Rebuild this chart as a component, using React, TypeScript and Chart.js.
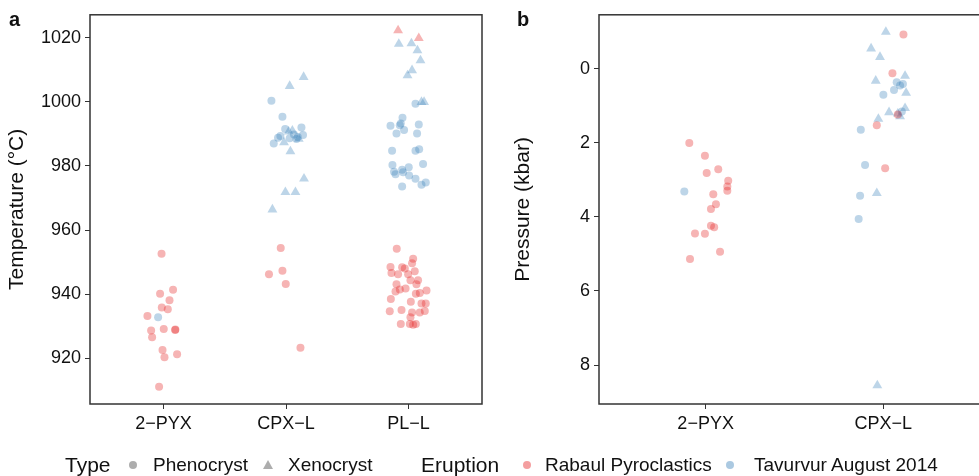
import React, { useEffect, useRef } from 'react';
import { Chart, registerables } from 'chart.js';

Chart.register(...registerables);

const FONT = '"Liberation Sans", Arial, Helvetica, sans-serif';
const RED = 'rgba(228, 26, 28, 0.33)';
const BLUE = 'rgba(55, 126, 184, 0.33)';
const INK = '#111111';
const FRAME = '#333333';

// [category, horizontal jitter (category units), value]
type Pt = [string, number, number];

// ---------- Panel a: temperature ----------
const tempCategories = ['2−PYX', 'CPX−L', 'PL−L'];
const tempTicks = [920, 940, 960, 980, 1000, 1020];
const tempRange = [905.8, 1027.1];

const tempRabaulPheno: Pt[] = [
  ['2−PYX', -0.016, 952.6], ['2−PYX', -0.028, 940.2], ['2−PYX', 0.078, 941.4],
  ['2−PYX', 0.049, 938.1], ['2−PYX', -0.014, 935.9], ['2−PYX', 0.035, 935.3],
  ['2−PYX', -0.131, 933.2], ['2−PYX', -0.101, 928.7], ['2−PYX', 0.002, 929.2],
  ['2−PYX', 0.095, 928.9], ['2−PYX', 0.097, 929.0], ['2−PYX', -0.093, 926.6],
  ['2−PYX', -0.008, 922.6], ['2−PYX', 0.008, 920.4], ['2−PYX', 0.111, 921.3],
  ['2−PYX', -0.036, 911.2],
  ['CPX−L', -0.043, 954.4], ['CPX−L', -0.139, 946.2], ['CPX−L', -0.029, 947.3],
  ['CPX−L', -0.002, 943.2], ['CPX−L', 0.118, 923.3],
  ['PL−L', -0.096, 954.2], ['PL−L', 0.038, 951.1], ['PL−L', 0.029, 949.7],
  ['PL−L', -0.147, 948.5], ['PL−L', -0.052, 948.4], ['PL−L', -0.030, 948.0],
  ['PL−L', 0.051, 947.2], ['PL−L', -0.139, 946.6], ['PL−L', -0.085, 946.2],
  ['PL−L', -0.003, 946.2], ['PL−L', 0.016, 944.4], ['PL−L', 0.078, 944.4],
  ['PL−L', 0.065, 943.1], ['PL−L', -0.098, 943.1], ['PL−L', -0.024, 941.8],
  ['PL−L', -0.071, 941.5], ['PL−L', -0.106, 940.9], ['PL−L', 0.147, 941.2],
  ['PL−L', 0.092, 940.4], ['PL−L', 0.060, 940.2], ['PL−L', -0.144, 938.5],
  ['PL−L', 0.019, 937.7], ['PL−L', 0.106, 937.1], ['PL−L', 0.141, 937.1],
  ['PL−L', -0.153, 934.7], ['PL−L', -0.057, 935.1], ['PL−L', 0.029, 934.3],
  ['PL−L', 0.092, 934.3], ['PL−L', 0.133, 934.8], ['PL−L', 0.016, 932.8],
  ['PL−L', -0.063, 930.7], ['PL−L', 0.011, 930.7], ['PL−L', 0.038, 930.5],
  ['PL−L', 0.060, 930.7],
];

const tempRabaulXeno: Pt[] = [
  ['PL−L', -0.085, 1022.2], ['PL−L', 0.084, 1019.8],
];

const tempTavurvurPheno: Pt[] = [
  ['2−PYX', -0.044, 932.8],
  ['CPX−L', -0.119, 1000.3], ['CPX−L', -0.029, 995.3], ['CPX−L', 0.126, 992.0],
  ['CPX−L', -0.046, 989.3], ['CPX−L', -0.065, 988.8], ['CPX−L', 0.065, 989.8],
  ['CPX−L', 0.085, 988.4], ['CPX−L', 0.139, 989.6], ['CPX−L', -0.100, 987.0],
  ['CPX−L', 0.096, 989.0], ['CPX−L', 0.030, 988.6], ['CPX−L', -0.007, 991.5],
  ['PL−L', 0.057, 999.4], ['PL−L', -0.049, 995.0], ['PL−L', -0.147, 992.5],
  ['PL−L', -0.071, 992.7], ['PL−L', -0.063, 993.2], ['PL−L', -0.036, 991.2],
  ['PL−L', -0.098, 990.1], ['PL−L', 0.084, 992.9], ['PL−L', 0.070, 990.1],
  ['PL−L', -0.134, 984.7], ['PL−L', 0.057, 984.7], ['PL−L', 0.087, 985.2],
  ['PL−L', -0.131, 980.3], ['PL−L', -0.118, 978.2], ['PL−L', -0.106, 977.4],
  ['PL−L', -0.052, 978.8], ['PL−L', -0.044, 978.0], ['PL−L', 0.002, 979.6],
  ['PL−L', 0.005, 977.0], ['PL−L', 0.057, 976.0], ['PL−L', 0.119, 980.6],
  ['PL−L', 0.106, 974.1], ['PL−L', 0.141, 974.8], ['PL−L', -0.052, 973.6],
];

const tempTavurvurXeno: Pt[] = [
  ['CPX−L', 0.144, 1007.7], ['CPX−L', 0.030, 1004.9], ['CPX−L', 0.022, 990.7],
  ['CPX−L', 0.052, 991.0], ['CPX−L', 0.104, 988.4], ['CPX−L', -0.016, 987.3],
  ['CPX−L', 0.036, 984.5], ['CPX−L', 0.147, 976.0], ['CPX−L', -0.005, 971.8],
  ['CPX−L', 0.077, 971.8], ['CPX−L', -0.111, 966.4],
  ['PL−L', -0.079, 1018.0], ['PL−L', 0.024, 1018.2], ['PL−L', 0.073, 1016.0],
  ['PL−L', 0.098, 1012.9], ['PL−L', 0.029, 1009.8], ['PL−L', -0.008, 1008.2],
  ['PL−L', 0.106, 999.9], ['PL−L', 0.127, 999.9],
];

// ---------- Panel b: pressure ----------
const presCategories = ['2−PYX', 'CPX−L'];
const presTicks = [0, 2, 4, 6, 8];
const presRange = [-1.45, 9.05];

const presRabaulPheno: Pt[] = [
  ['2−PYX', -0.092, 2.01], ['2−PYX', -0.004, 2.35], ['2−PYX', 0.006, 2.82],
  ['2−PYX', 0.071, 2.72], ['2−PYX', 0.127, 3.03], ['2−PYX', 0.122, 3.18],
  ['2−PYX', 0.122, 3.30], ['2−PYX', 0.043, 3.39], ['2−PYX', 0.058, 3.66],
  ['2−PYX', 0.030, 3.79], ['2−PYX', 0.030, 4.24], ['2−PYX', 0.048, 4.28],
  ['2−PYX', -0.060, 4.45], ['2−PYX', -0.004, 4.46], ['2−PYX', 0.081, 4.94],
  ['2−PYX', -0.088, 5.14],
  ['CPX−L', 0.113, -0.92], ['CPX−L', 0.051, 0.13], ['CPX−L', 0.081, 1.24],
  ['CPX−L', -0.037, 1.53], ['CPX−L', 0.010, 2.69],
];

const presTavurvurPheno: Pt[] = [
  ['2−PYX', -0.120, 3.32],
  ['CPX−L', 0.075, 0.37], ['CPX−L', 0.110, 0.42], ['CPX−L', 0.094, 0.46],
  ['CPX−L', 0.060, 0.58], ['CPX−L', 0.000, 0.71], ['CPX−L', 0.104, 1.16],
  ['CPX−L', -0.127, 1.65], ['CPX−L', -0.103, 2.60], ['CPX−L', -0.131, 3.43],
  ['CPX−L', -0.139, 4.06],
];

const presTavurvurXeno: Pt[] = [
  ['CPX−L', 0.014, -0.99], ['CPX−L', -0.069, -0.54], ['CPX−L', -0.019, -0.31],
  ['CPX−L', 0.122, 0.20], ['CPX−L', -0.043, 0.33], ['CPX−L', 0.128, 0.66],
  ['CPX−L', 0.122, 1.07], ['CPX−L', 0.032, 1.18], ['CPX−L', -0.028, 1.36],
  ['CPX−L', 0.094, 1.29], ['CPX−L', 0.081, 1.22], ['CPX−L', -0.037, 3.36],
  ['CPX−L', -0.034, 8.55],
];

const toXY = (pts: Pt[], cats: string[]) =>
  pts.map(([c, j, v]) => ({ x: cats.indexOf(c) + 1 + j, y: v }));

const framePlugin = {
  id: 'frame',
  afterDraw(chart: any) {
    const { ctx, chartArea } = chart;
    ctx.save();
    ctx.strokeStyle = FRAME;
    ctx.lineWidth = 1.5;
    ctx.strokeRect(chartArea.left, chartArea.top, chartArea.right - chartArea.left, chartArea.bottom - chartArea.top);
    ctx.restore();
  },
};

function makeDataset(label: string, pts: Pt[], cats: string[], color: string, tri: boolean) {
  return {
    label,
    data: toXY(pts, cats),
    pointStyle: tri ? 'triangle' : 'circle',
    pointRadius: tri ? 5.7 : 4,
    pointBackgroundColor: color,
    pointBorderWidth: 0,
    borderWidth: 0,
    showLine: false,
  };
}

function makeConfig(opts: {
  cats: string[];
  ticks: number[];
  range: number[];
  reverse: boolean;
  title: string;
  yWidth: number;
  titlePad: number;
  rightPad: number;
  datasets: any[];
}) {
  const n = opts.cats.length;
  return {
    type: 'scatter' as const,
    data: { datasets: opts.datasets },
    plugins: [framePlugin],
    options: {
      responsive: false,
      animation: false,
      events: [],
      layout: { padding: { left: 0, top: 12, right: opts.rightPad, bottom: 30 } },
      plugins: { legend: { display: false }, tooltip: { enabled: false }, title: { display: false } },
      scales: {
        x: {
          type: 'linear',
          min: 0.4,
          max: n + 0.6,
          afterBuildTicks: (s: any) => { s.ticks = opts.cats.map((_, i) => ({ value: i + 1 })); },
          afterFit: (s: any) => { s.height = 42; },
          border: { display: false },
          grid: { drawOnChartArea: false, drawTicks: true, tickLength: 5, color: FRAME, lineWidth: 1 },
          ticks: {
            autoSkip: false,
            maxRotation: 0,
            padding: 4,
            color: INK,
            font: { family: FONT, size: 18 },
            callback: (v: any) => opts.cats[Math.round(Number(v)) - 1] ?? '',
          },
        },
        y: {
          type: 'linear',
          min: opts.range[0],
          max: opts.range[1],
          reverse: opts.reverse,
          afterBuildTicks: (s: any) => { s.ticks = opts.ticks.map((v) => ({ value: v })); },
          afterFit: (s: any) => { s.width = opts.yWidth; },
          border: { display: false },
          grid: { drawOnChartArea: false, drawTicks: true, tickLength: 5, color: FRAME, lineWidth: 1 },
          ticks: {
            padding: 4,
            color: INK,
            font: { family: FONT, size: 18 },
            callback: (v: any) => String(v),
          },
          title: {
            display: true,
            text: opts.title,
            color: INK,
            font: { family: FONT, size: 21 },
            padding: { top: opts.titlePad, bottom: 0 },
          },
        },
      },
    },
  };
}

function ChartCanvas({ config, width, height, left }: { config: any; width: number; height: number; left: number }) {
  const ref = useRef<HTMLCanvasElement | null>(null);
  useEffect(() => {
    if (!ref.current) return;
    const chart = new Chart(ref.current, config);
    return () => chart.destroy();
  }, [config]);
  return (
    <canvas
      ref={ref}
      width={width}
      height={height}
      style={{ position: 'absolute', left, top: 0, width, height, display: 'block' }}
    />
  );
}

const configA = makeConfig({
  cats: tempCategories,
  ticks: tempTicks,
  range: tempRange,
  reverse: false,
  title: 'Temperature (°C)',
  yWidth: 90,
  titlePad: 5,
  rightPad: 13,
  datasets: [
    makeDataset('Rabaul Pyroclastics – Phenocryst', tempRabaulPheno, tempCategories, RED, false),
    makeDataset('Rabaul Pyroclastics – Xenocryst', tempRabaulXeno, tempCategories, RED, true),
    makeDataset('Tavurvur August 2014 – Phenocryst', tempTavurvurPheno, tempCategories, BLUE, false),
    makeDataset('Tavurvur August 2014 – Xenocryst', tempTavurvurXeno, tempCategories, BLUE, true),
  ],
});

const configB = makeConfig({
  cats: presCategories,
  ticks: presTicks,
  range: presRange,
  reverse: true,
  title: 'Pressure (kbar)',
  yWidth: 104,
  titlePad: 16,
  rightPad: 15,
  datasets: [
    makeDataset('Rabaul Pyroclastics – Phenocryst', presRabaulPheno, presCategories, RED, false),
    makeDataset('Tavurvur August 2014 – Phenocryst', presTavurvurPheno, presCategories, BLUE, false),
    makeDataset('Tavurvur August 2014 – Xenocryst', presTavurvurXeno, presCategories, BLUE, true),
  ],
});

const legendText: React.CSSProperties = {
  position: 'absolute',
  top: 452,
  fontFamily: FONT,
  fontSize: 19,
  lineHeight: '26px',
  color: INK,
  whiteSpace: 'nowrap',
};

function Dot({ cx, color }: { cx: number; color: string }) {
  return (
    <div
      style={{
        position: 'absolute', left: cx - 4, top: 461, width: 8, height: 8,
        borderRadius: '50%', background: color,
      }}
    />
  );
}

function Tri({ cx, color }: { cx: number; color: string }) {
  return (
    <div
      style={{
        position: 'absolute', left: cx - 5, top: 460, width: 0, height: 0,
        borderLeft: '5px solid transparent', borderRight: '5px solid transparent',
        borderBottom: `9px solid ${color}`,
      }}
    />
  );
}

export default function App() {
  return (
    <div
      style={{
        position: 'fixed', left: 0, top: 0, width: 979, height: 476,
        overflow: 'hidden', background: '#ffffff',
      }}
    >
      <ChartCanvas config={configA} width={495} height={476} left={0} />
      <ChartCanvas config={configB} width={510} height={476} left={495} />
      <div style={{ position: 'absolute', left: 9, top: 8, fontFamily: FONT, fontWeight: 'bold', fontSize: 20, color: INK }}>a</div>
      <div style={{ position: 'absolute', left: 517, top: 8, fontFamily: FONT, fontWeight: 'bold', fontSize: 20, color: INK }}>b</div>

      <div style={{ ...legendText, left: 65, fontSize: 21 }}>Type</div>
      <Dot cx={133} color="rgba(0,0,0,0.32)" />
      <div style={{ ...legendText, left: 153 }}>Phenocryst</div>
      <Tri cx={268} color="rgba(0,0,0,0.32)" />
      <div style={{ ...legendText, left: 288 }}>Xenocryst</div>
      <div style={{ ...legendText, left: 421, fontSize: 21 }}>Eruption</div>
      <Dot cx={527} color="rgba(228, 26, 28, 0.42)" />
      <div style={{ ...legendText, left: 545 }}>Rabaul Pyroclastics</div>
      <Dot cx={730} color="rgba(55, 126, 184, 0.42)" />
      <div style={{ ...legendText, left: 754 }}>Tavurvur August 2014</div>
    </div>
  );
}
